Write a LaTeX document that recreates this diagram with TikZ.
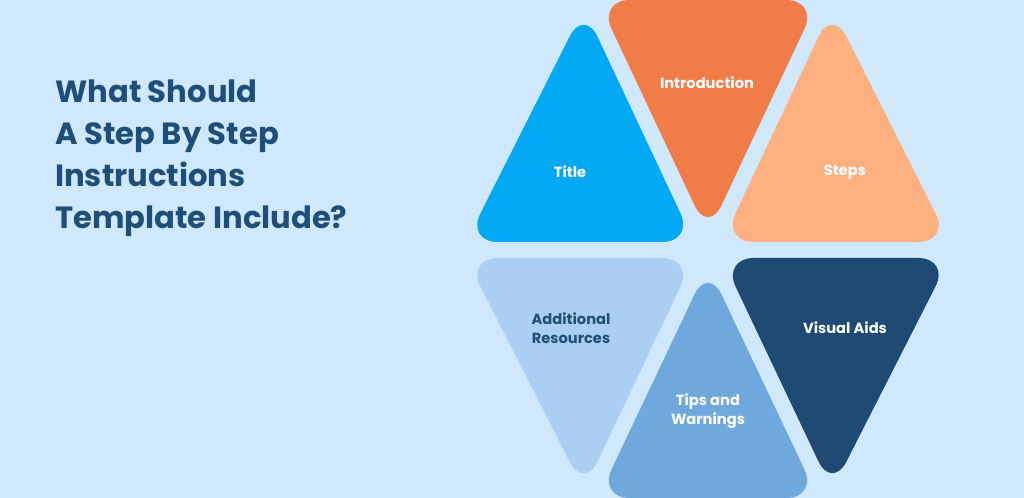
\documentclass[tikz,border=0pt]{standalone}
\usepackage{fontspec}
\usetikzlibrary{calc}
\setmainfont{Poppins}
\definecolor{bg}{HTML}{CFE8FC}
\definecolor{navy}{HTML}{1F4E79}
\definecolor{cIntro}{HTML}{F07C48}
\definecolor{cSteps}{HTML}{FFB07F}
\definecolor{cVis}{HTML}{1E4A73}
\definecolor{cTips}{HTML}{6FA8DC}
\definecolor{cAdd}{HTML}{AACFF2}
\definecolor{cTitle}{HTML}{03A9F4}
\newcommand{\tri}[5]{\fill[#1,rounded corners=24pt] ($(O)+(#2)$) -- ($(#3)+(#2)$) -- ($(#4)+(#2)$) -- cycle;}
\begin{document}
\begin{tikzpicture}[x=0.75pt,y=-0.75pt,
  lab/.style={font=\bfseries\fontsize{11}{14}\selectfont,align=center,text=white}]
\fill[bg] (0,0) rectangle (1024,498);
\useasboundingbox (0,0) rectangle (1024,498);
\coordinate (O) at (708,250);
\coordinate (A) at (598,16);
\coordinate (B) at (818,16);
\coordinate (C) at (936,250);
\coordinate (D) at (818,482);
\coordinate (E) at (598,482);
\coordinate (F) at (480,250);
\tri{cIntro}{0,-16}{A}{B}{}
\tri{cSteps}{14,-8}{B}{C}{}
\tri{cVis}{14,8}{C}{D}{}
\tri{cTips}{0,16}{D}{E}{}
\tri{cAdd}{-14,8}{E}{F}{}
\tri{cTitle}{-14,-8}{F}{A}{}
\node[lab] (n1) at (707,83) {Introduction};
\node[lab] (n2) at (845,172) {Steps};
\node[lab] (n3) at (845,328) {Visual Aids};
\node[lab] (n4) at (708,411) {Tips and\\Warnings};
\node[lab,text=navy] (n5) at (571,328) {Additional\\Resources};
\node[lab] (n6) at (570,172) {Title};
\node[anchor=north west,align=left,text=navy,font=\bfseries\fontsize{23}{31.5}\selectfont,inner sep=0pt] (t) at (55,80)
 {What Should\\A Step By Step\\Instructions\\Template Include?};
\end{tikzpicture}
\end{document}
